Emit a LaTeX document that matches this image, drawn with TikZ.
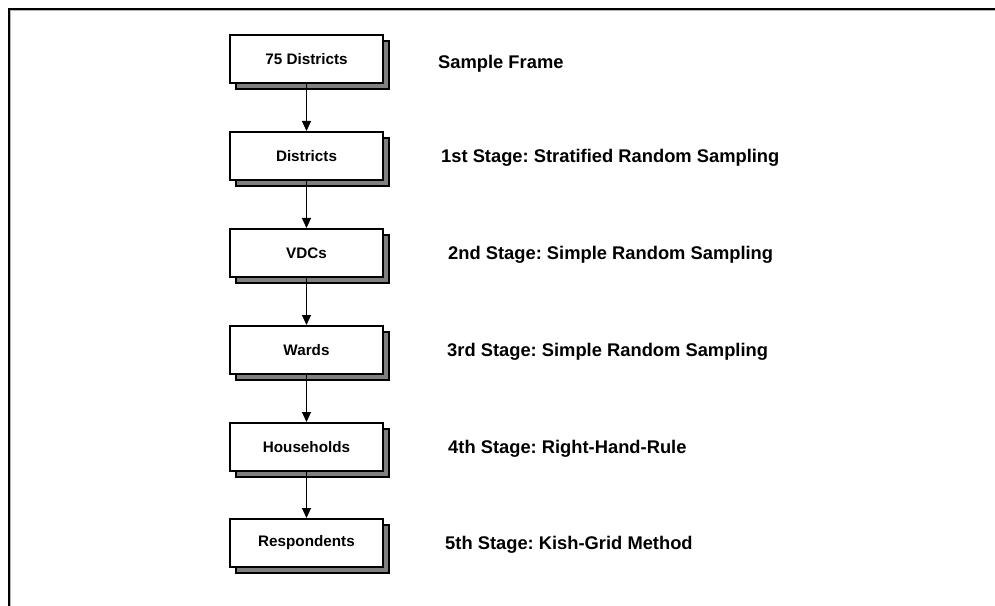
\documentclass[tikz,border=0pt]{standalone}
\usepackage{fontspec}
\setmainfont{Liberation Sans}
\usetikzlibrary{shadows,arrows.meta}
\begin{document}
\frenchspacing
\begin{tikzpicture}[x=1bp,y=-1bp,
  stagebox/.style={draw=black, line width=2bp, fill=white, minimum width=153bp, minimum height=48bp, inner sep=0pt,
    font=\bfseries\fontsize{15.3}{18}\selectfont,
    drop shadow={shadow xshift=6bp, shadow yshift=-6bp, fill=black!50, draw=black, line width=1.5bp, opacity=1}},
  stagelabel/.style={anchor=base west, inner sep=0pt, font=\bfseries\fontsize{18.4}{22}\selectfont},
  flow/.style={-{Triangle[length=10bp,width=9bp]}, line width=1bp}]
\useasboundingbox (0,0) rectangle (995,606);
\fill[white] (0,0) rectangle (995,606);
\draw[line width=2bp] (9,607) -- (9,9) -- (996,9);
\draw[black!30, line width=0.8bp] (10.8,607) -- (10.8,10.8) -- (996,10.8);

\node[stagebox] (b1) at (306.5,59) {75 Districts};
\node[stagebox] (b2) at (306.5,156) {Districts};
\node[stagebox] (b3) at (306.5,253) {VDCs};
\node[stagebox] (b4) at (306.5,350) {Wards};
\node[stagebox] (b5) at (306.5,447) {Households};
\node[stagebox] (b6) at (306.5,543) {Respondents};

\draw[flow] (b1) -- (b2);
\draw[flow] (b2) -- (b3);
\draw[flow] (b3) -- (b4);
\draw[flow] (b4) -- (b5);
\draw[flow] (b5) -- (b6);

\node[stagelabel] (l0) at (438,68.5) {Sample Frame};
\node[stagelabel] (l1) at (441,162.5) {1st Stage: Stratified Random Sampling};
\node[stagelabel] (l2) at (448,259.5) {2nd Stage: Simple Random Sampling};
\node[stagelabel] (l3) at (447,356.5) {3rd Stage: Simple Random Sampling};
\node[stagelabel] (l4) at (448,453) {4th Stage: Right-Hand-Rule};
\node[stagelabel] (l5) at (445,549.5) {5th Stage: Kish-Grid Method};
\end{tikzpicture}
\end{document}
